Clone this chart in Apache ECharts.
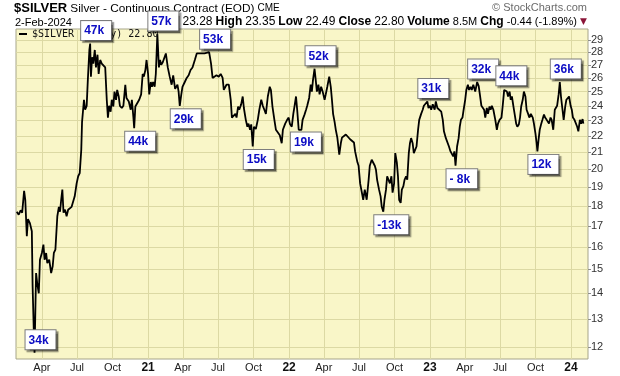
<!DOCTYPE html>
<html>
<head>
<meta charset="utf-8">
<script src="https://cdn.jsdelivr.net/npm/echarts@6/dist/echarts.min.js"></script>
<style>
  html, body { margin: 0; padding: 0; background: #fff; }
  #chart { width: 620px; height: 376px; }
</style>
</head>
<body>
<div id="chart"></div>
<script>
// silver continuous contract, closes
const dates = [
  '2020-01-27','2020-02-01','2020-02-06','2020-02-10','2020-02-15','2020-02-18','2020-02-22','2020-02-25',
  '2020-03-01','2020-03-06','2020-03-08','2020-03-11','2020-03-13','2020-03-17','2020-03-20','2020-03-24',
  '2020-03-27','2020-04-01','2020-04-05','2020-04-08','2020-04-12','2020-04-15','2020-04-20','2020-04-25',
  '2020-04-29','2020-05-02','2020-05-06','2020-05-11','2020-05-15','2020-05-18','2020-05-21','2020-05-24',
  '2020-05-27','2020-05-31','2020-06-04','2020-06-08','2020-06-12','2020-06-17','2020-06-21','2020-06-25',
  '2020-06-30','2020-07-04','2020-07-08','2020-07-12','2020-07-14','2020-07-19','2020-07-22','2020-07-26',
  '2020-07-29','2020-08-02','2020-08-04','2020-08-06','2020-08-09','2020-08-12','2020-08-16','2020-08-19',
  '2020-08-23','2020-08-26','2020-08-30','2020-09-03','2020-09-07','2020-09-12','2020-09-16','2020-09-19',
  '2020-09-22','2020-09-26','2020-09-29','2020-10-03','2020-10-06','2020-10-10','2020-10-13','2020-10-17',
  '2020-10-20','2020-10-25','2020-10-29','2020-11-03','2020-11-06','2020-11-12','2020-11-17','2020-11-20',
  '2020-11-24','2020-11-26','2020-11-29','2020-12-04','2020-12-09','2020-12-14','2020-12-18','2020-12-21',
  '2020-12-25','2020-12-28',
  '2021-01-01','2021-01-04','2021-01-08','2021-01-11','2021-01-14','2021-01-18','2021-01-21','2021-01-25',
  '2021-01-29','2021-02-01','2021-02-04','2021-02-08','2021-02-13','2021-02-16','2021-02-21','2021-02-26',
  '2021-03-03','2021-03-07','2021-03-12','2021-03-18','2021-03-21','2021-03-24','2021-03-28','2021-03-31',
  '2021-04-06','2021-04-11','2021-04-16','2021-04-21','2021-04-26','2021-05-02','2021-05-07','2021-05-12',
  '2021-05-17','2021-05-22','2021-05-27','2021-06-01','2021-06-08','2021-06-13','2021-06-17','2021-06-22',
  '2021-06-27','2021-07-03','2021-07-08','2021-07-13','2021-07-16','2021-07-20','2021-07-23','2021-07-29',
  '2021-08-03','2021-08-06','2021-08-09','2021-08-15','2021-08-18','2021-08-22','2021-08-25','2021-08-30',
  '2021-09-03','2021-09-06','2021-09-11','2021-09-15','2021-09-18','2021-09-22','2021-09-25','2021-09-29',
  '2021-10-02','2021-10-07','2021-10-12','2021-10-16','2021-10-21','2021-10-25','2021-10-28','2021-11-02',
  '2021-11-07','2021-11-12','2021-11-15','2021-11-19','2021-11-24','2021-11-28','2021-12-03','2021-12-08',
  '2021-12-13','2021-12-16','2021-12-22','2021-12-27','2021-12-31',
  '2022-01-03','2022-01-08','2022-01-12','2022-01-15','2022-01-19','2022-01-22','2022-01-26','2022-01-29',
  '2022-02-02','2022-02-05','2022-02-10','2022-02-14','2022-02-17','2022-02-22','2022-02-26','2022-03-01',
  '2022-03-04','2022-03-08','2022-03-11','2022-03-14','2022-03-18','2022-03-21','2022-03-25','2022-03-29',
  '2022-04-03','2022-04-06','2022-04-10','2022-04-15','2022-04-19','2022-04-22','2022-04-25','2022-04-29',
  '2022-05-02','2022-05-06','2022-05-11','2022-05-15','2022-05-18','2022-05-23','2022-05-28','2022-06-02',
  '2022-06-08','2022-06-13','2022-06-18','2022-06-21','2022-06-27','2022-06-30','2022-07-04','2022-07-09',
  '2022-07-12','2022-07-16','2022-07-21','2022-07-26','2022-07-29','2022-08-03','2022-08-07','2022-08-11',
  '2022-08-14','2022-08-17','2022-08-22','2022-08-26','2022-08-29','2022-09-02','2022-09-05','2022-09-09',
  '2022-09-12','2022-09-16','2022-09-19','2022-09-23','2022-09-26','2022-09-30','2022-10-03','2022-10-07',
  '2022-10-10','2022-10-13','2022-10-17','2022-10-20','2022-10-24','2022-10-27','2022-10-31','2022-11-03',
  '2022-11-07','2022-11-10','2022-11-13','2022-11-17','2022-11-20','2022-11-24','2022-11-27','2022-12-01',
  '2022-12-04','2022-12-09','2022-12-13','2022-12-16','2022-12-21','2022-12-25','2022-12-28',
  '2023-01-01','2023-01-04','2023-01-08','2023-01-13','2023-01-16','2023-01-20','2023-01-25','2023-01-30',
  '2023-02-03','2023-02-06','2023-02-11','2023-02-14','2023-02-19','2023-02-23','2023-02-26','2023-03-02',
  '2023-03-05','2023-03-08','2023-03-12','2023-03-16','2023-03-19','2023-03-22','2023-03-26','2023-03-29',
  '2023-04-02','2023-04-05','2023-04-09','2023-04-12','2023-04-16','2023-04-19','2023-04-23','2023-04-28',
  '2023-05-03','2023-05-07','2023-05-10','2023-05-14','2023-05-17','2023-05-21','2023-05-24','2023-05-28',
  '2023-05-31','2023-06-04','2023-06-07','2023-06-10','2023-06-14','2023-06-19','2023-06-23','2023-06-26',
  '2023-06-30','2023-07-05','2023-07-08','2023-07-12','2023-07-15','2023-07-19','2023-07-22','2023-07-26',
  '2023-07-29','2023-08-01','2023-08-05','2023-08-08','2023-08-12','2023-08-15','2023-08-19','2023-08-22',
  '2023-08-25','2023-08-29','2023-09-01','2023-09-05','2023-09-08','2023-09-12','2023-09-15','2023-09-19',
  '2023-09-24','2023-09-27','2023-10-01','2023-10-04','2023-10-06','2023-10-09','2023-10-12','2023-10-16',
  '2023-10-19','2023-10-23','2023-10-26','2023-10-30','2023-11-02','2023-11-05','2023-11-09','2023-11-12',
  '2023-11-16','2023-11-20','2023-11-23','2023-11-26','2023-11-30','2023-12-03','2023-12-06','2023-12-10',
  '2023-12-13','2023-12-17','2023-12-20','2023-12-24','2023-12-27','2023-12-31',
  '2024-01-03','2024-01-06','2024-01-10','2024-01-13','2024-01-17','2024-01-20','2024-01-24','2024-01-27',
  '2024-01-31','2024-02-02'
];
const closes = [
  17.70,17.55,17.77,17.65,18.80,18.32,16.50,17.33,
  17.13,16.73,14.30,12.60,11.80,14.84,14.40,14.00,
  15.42,15.72,16.10,15.42,15.72,15.27,15.42,14.84,
  15.13,15.72,15.87,17.47,17.95,17.70,18.32,18.86,
  17.65,17.80,17.47,17.80,17.70,17.95,18.23,18.50,
  19.20,19.60,19.78,21.15,22.90,24.42,23.73,24.00,
  25.86,28.18,28.70,26.10,27.60,27.10,28.18,26.80,
  27.80,26.30,27.38,27.10,27.20,26.80,24.42,23.20,
  24.00,23.60,24.42,23.95,25.00,24.42,25.12,24.65,
  24.00,23.85,24.00,25.50,24.55,24.30,23.73,24.42,
  23.20,22.50,23.95,24.00,24.42,24.80,26.30,26.10,
  26.60,27.38,
  26.30,24.80,25.70,25.35,25.70,25.35,26.30,29.50,
  26.80,27.38,27.00,27.20,27.10,27.90,26.80,26.10,
  25.50,26.20,25.20,25.50,25.00,24.00,24.80,25.35,
  25.70,26.00,26.20,26.60,26.80,27.38,27.90,28.00,
  27.90,28.00,27.90,27.85,28.00,27.10,26.00,26.00,
  26.20,26.10,26.30,26.00,25.12,25.00,25.50,25.50,
  24.42,23.20,23.10,23.45,23.20,23.95,23.73,24.10,
  24.65,23.85,23.05,22.60,22.80,22.40,22.75,21.35,
  22.60,22.45,23.05,23.73,24.42,24.00,23.80,23.45,
  24.65,25.35,25.12,23.95,23.05,22.40,22.30,22.05,
  21.55,22.40,22.80,23.05,23.20,
  22.80,22.60,23.45,23.95,24.65,23.73,22.40,22.45,
  22.40,23.05,23.40,23.73,24.00,24.55,25.50,25.00,
  25.86,26.70,25.86,25.00,25.50,24.80,25.35,25.00,
  24.42,24.80,25.35,26.10,25.35,24.42,23.45,22.90,
  22.40,21.90,20.85,21.55,21.90,21.87,22.10,22.05,
  21.80,21.90,21.60,21.05,20.40,20.20,19.20,19.10,
  18.32,18.86,18.32,19.40,20.20,20.55,20.55,20.20,
  19.97,19.40,18.86,18.50,17.95,17.70,18.32,18.86,
  19.60,19.60,19.20,19.60,18.70,19.20,20.95,20.40,
  19.60,18.32,18.15,18.86,19.05,19.40,19.60,19.40,
  20.95,21.55,21.87,21.55,20.95,21.05,21.35,22.40,
  23.05,23.45,23.73,24.00,24.10,24.30,23.85,
  24.00,23.73,24.10,23.73,24.30,23.85,23.73,23.60,
  23.05,22.30,21.87,21.77,21.35,21.05,20.95,20.75,
  21.05,20.20,21.35,21.87,22.60,23.05,23.20,23.73,
  24.42,25.12,25.50,25.12,25.35,25.12,25.50,25.00,
  25.70,25.40,24.80,24.00,23.90,23.73,23.20,23.85,
  23.45,23.95,23.73,24.00,23.73,23.05,22.40,22.80,
  23.05,23.20,23.95,25.12,25.20,25.00,24.65,25.00,
  24.42,24.65,23.95,23.45,22.80,22.60,22.75,23.20,
  23.95,24.42,25.00,24.65,23.73,23.45,23.20,23.45,
  23.20,22.80,22.15,21.55,21.05,21.77,22.40,22.80,
  23.05,23.40,23.20,23.05,23.05,22.80,23.20,23.05,
  22.40,23.73,23.73,24.00,24.80,25.70,24.65,23.73,
  23.05,23.95,24.42,24.55,24.65,24.00,
  23.73,23.20,23.05,23.10,22.60,22.30,23.05,22.80,
  23.10,22.80
];

// net position call-outs
const noteLabels = ['34k','47k','44k','57k','29k','53k','15k','19k','52k','-13k','31k','- 8k','32k','44k','12k','36k'];
const noteDates  = ['2020-03-13','2020-08-04','2020-11-26','2021-01-25','2021-03-24','2021-06-08','2021-09-29','2022-01-29',
                    '2022-03-08','2022-09-02','2022-12-25','2023-03-08','2023-05-03','2023-07-15','2023-10-06','2023-12-03'];
const notePrices = [11.80,28.70,22.50,29.50,24.00,28.00,21.35,22.45,26.70,17.70,24.30,20.20,25.70,25.20,21.05,25.70];
const noteSides  = ['hi','hi','lo','hi','lo','hi','lo','lo','hi','lo','hi','lo','hi','hi','lo','hi'];

const priceTicks = [12,13,14,15,16,17,18,19,20,21,22,23,24,25,26,27,28,29];
const xTickDates = ['2020-04-01','2020-07-01','2020-10-01','2021-01-01','2021-04-01','2021-07-01','2021-10-01','2022-01-01',
                    '2022-04-01','2022-07-01','2022-10-01','2023-01-01','2023-04-01','2023-07-01','2023-10-01','2024-01-01'];
const xTickLabels = ['Apr','Jul','Oct','21','Apr','Jul','Oct','22','Apr','Jul','Oct','23','Apr','Jul','Oct','24'];

const FONT = '"Liberation Sans", Arial, sans-serif';
const chart = echarts.init(document.getElementById('chart'), null, { renderer: 'canvas' });
const toTime = d => echarts.number.parseDate(d).getTime();
const xTicks = xTickDates.map(toTime);
const seriesName = '$SILVER (Daily) 22.80';

function notePoints(side) {
  const out = [];
  noteLabels.forEach((t, i) => {
    if (noteSides[i] === side) out.push({ name: t, value: [toTime(noteDates[i]), notePrices[i]] });
  });
  return out;
}

const boxLabel = {
  show: true,
  formatter: p => p.name,
  align: 'left',
  offset: [-9, 0],
  distance: 3,
  backgroundColor: '#fff',
  borderColor: '#7d7d7d',
  borderWidth: 1,
  padding: [3, 7, 2, 3],
  color: '#0c0cc4',
  fontWeight: 'bold',
  fontSize: 12,
  lineHeight: 14,
  fontFamily: FONT,
  shadowColor: 'rgba(0,0,0,0.4)',
  shadowOffsetX: 2,
  shadowOffsetY: 2,
  shadowBlur: 1
};

chart.setOption({
  animation: false,
  backgroundColor: '#fff',
  title: [
    {
      left: 14, top: 1, padding: 0,
      text: '{a|$SILVER} {b|Silver - Continuous Contract (EOD)} {c|CME}',
      textStyle: {
        fontSize: 11, fontWeight: 'normal', fontFamily: FONT, lineHeight: 15,
        rich: {
          a: { fontSize: 13, fontWeight: 'bold', color: '#000', fontFamily: FONT, lineHeight: 15 },
          b: { fontSize: 11.8, fontWeight: 'normal', color: '#000', fontFamily: FONT, lineHeight: 15 },
          c: { fontSize: 10, fontWeight: 'normal', color: '#000', fontFamily: FONT, lineHeight: 15 }
        }
      }
    },
    {
      left: 15, top: 16, padding: 0,
      text: '2-Feb-2024',
      textStyle: { fontSize: 11, fontWeight: 'normal', color: '#000', fontFamily: FONT, lineHeight: 13 }
    },
    {
      right: 33, top: 15, padding: 0,
      text: '{k|Open} {v|23.28} {k|High} {v|23.35} {k|Low} {v|22.49} {k|Close} {v|22.80} {k|Volume} {s|8.5M} {k|Chg} {s|-0.44 (-1.89%)} {t|▼}',
      textStyle: {
        fontSize: 11, fontWeight: 'normal', fontFamily: FONT, lineHeight: 14,
        rich: {
          k: { fontSize: 12, fontWeight: 'bold', color: '#000', fontFamily: FONT, lineHeight: 14 },
          v: { fontSize: 12, fontWeight: 'normal', color: '#000', fontFamily: FONT, lineHeight: 14 },
          s: { fontSize: 11, fontWeight: 'normal', color: '#000', fontFamily: FONT, lineHeight: 14 },
          t: { fontSize: 9, fontWeight: 'normal', color: '#8b1538', fontFamily: 'DejaVu Sans', lineHeight: 14 }
        }
      }
    },
    {
      right: 33, top: 1, padding: 0,
      text: '© StockCharts.com',
      textStyle: { fontSize: 11, fontWeight: 'normal', color: '#6b6b6b', fontFamily: FONT, lineHeight: 13 }
    }
  ],
  legend: {
    data: [seriesName],
    left: 19, top: 29, padding: 0,
    icon: 'rect', itemWidth: 8, itemHeight: 2, itemGap: 0,
    textStyle: { fontFamily: '"DejaVu Sans Mono", monospace', fontSize: 10, color: '#111' }
  },
  grid: {
    left: 16, right: 32, top: 29, bottom: 17,
    show: true, backgroundColor: '#f9f6c8', borderColor: '#a6a58a', borderWidth: 1
  },
  xAxis: {
    type: 'value',
    min: toTime('2020-01-25'),
    max: toTime('2024-02-14'),
    axisLine: { show: false },
    axisTick: { show: false, customValues: xTicks },
    splitLine: { show: true, lineStyle: { color: '#dcd9a4', width: 1 } },
    axisLabel: {
      customValues: xTicks,
      margin: 3,
      fontSize: 11,
      color: '#222',
      fontFamily: FONT,
      hideOverlap: false,
      formatter: function (v) {
        const i = xTicks.findIndex(t => Math.abs(t - v) < 43200000);
        if (i < 0) return '';
        const s = xTickLabels[i];
        return /^\d/.test(s) ? '{y|' + s + '}' : s;
      },
      rich: { y: { fontSize: 12, fontWeight: 'bold', color: '#111', fontFamily: FONT } }
    }
  },
  yAxis: {
    type: 'log',
    logBase: 10,
    position: 'right',
    min: 11.59,
    max: 29.93,
    axisLine: { show: false },
    axisTick: { show: true, length: 3, customValues: priceTicks, lineStyle: { color: '#8c8c8c' } },
    splitLine: { show: true, lineStyle: { color: '#dcd9a4', width: 1 } },
    axisLabel: {
      customValues: priceTicks,
      margin: 3,
      fontSize: 11,
      color: '#333',
      fontFamily: FONT
    }
  },
  series: [
    {
      name: seriesName,
      type: 'line',
      data: dates.map((d, i) => [toTime(d), closes[i]]),
      showSymbol: false,
      lineStyle: { color: '#000', width: 1.8 },
      itemStyle: { color: '#000' },
      z: 3
    },
    {
      name: 'highs',
      type: 'scatter',
      data: notePoints('hi'),
      symbolSize: 1,
      itemStyle: { color: 'rgba(0,0,0,0)', opacity: 1 },
      label: Object.assign({}, boxLabel, { position: 'top' }),
      emphasis: { disabled: true },
      z: 10
    },
    {
      name: 'lows',
      type: 'scatter',
      data: notePoints('lo'),
      symbolSize: 1,
      itemStyle: { color: 'rgba(0,0,0,0)', opacity: 1 },
      label: Object.assign({}, boxLabel, { position: 'bottom' }),
      emphasis: { disabled: true },
      z: 10
    }
  ]
});
</script>
</body>
</html>
